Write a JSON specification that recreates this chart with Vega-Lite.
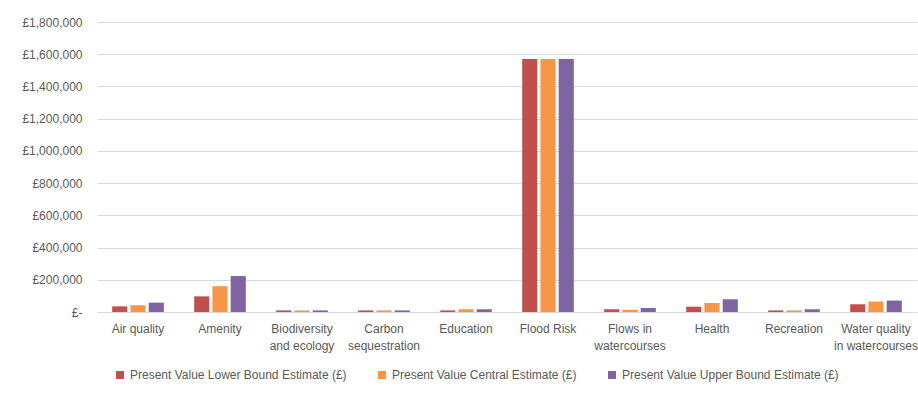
{
  "$schema": "https://vega.github.io/schema/vega-lite/v6.json",
  "autosize": "none",
  "width": 820,
  "height": 290,
  "padding": {"left": 97, "top": 22, "right": 1, "bottom": 83},
  "background": "white",
  "config": {
    "view": {"stroke": null},
    "font": "Liberation Sans",
    "axis": {"labelColor": "#595959", "labelFontSize": 12, "titleColor": "#595959"},
    "legend": {"labelColor": "#595959", "labelFontSize": 12}
  },
  "data": {
    "values": [
      {"category": "Air quality", "series": "Present Value Lower Bound Estimate (£)", "value": 35000},
      {"category": "Air quality", "series": "Present Value Central Estimate (£)", "value": 42000},
      {"category": "Air quality", "series": "Present Value Upper Bound Estimate (£)", "value": 58000},
      {"category": "Amenity", "series": "Present Value Lower Bound Estimate (£)", "value": 97000},
      {"category": "Amenity", "series": "Present Value Central Estimate (£)", "value": 160000},
      {"category": "Amenity", "series": "Present Value Upper Bound Estimate (£)", "value": 223000},
      {"category": "Biodiversity and ecology", "series": "Present Value Lower Bound Estimate (£)", "value": 10000},
      {"category": "Biodiversity and ecology", "series": "Present Value Central Estimate (£)", "value": 10000},
      {"category": "Biodiversity and ecology", "series": "Present Value Upper Bound Estimate (£)", "value": 10000},
      {"category": "Carbon sequestration", "series": "Present Value Lower Bound Estimate (£)", "value": 10000},
      {"category": "Carbon sequestration", "series": "Present Value Central Estimate (£)", "value": 10000},
      {"category": "Carbon sequestration", "series": "Present Value Upper Bound Estimate (£)", "value": 10000},
      {"category": "Education", "series": "Present Value Lower Bound Estimate (£)", "value": 10000},
      {"category": "Education", "series": "Present Value Central Estimate (£)", "value": 17000},
      {"category": "Education", "series": "Present Value Upper Bound Estimate (£)", "value": 17000},
      {"category": "Flood Risk", "series": "Present Value Lower Bound Estimate (£)", "value": 1570000},
      {"category": "Flood Risk", "series": "Present Value Central Estimate (£)", "value": 1570000},
      {"category": "Flood Risk", "series": "Present Value Upper Bound Estimate (£)", "value": 1570000},
      {"category": "Flows in watercourses", "series": "Present Value Lower Bound Estimate (£)", "value": 17000},
      {"category": "Flows in watercourses", "series": "Present Value Central Estimate (£)", "value": 14000},
      {"category": "Flows in watercourses", "series": "Present Value Upper Bound Estimate (£)", "value": 25000},
      {"category": "Health", "series": "Present Value Lower Bound Estimate (£)", "value": 33000},
      {"category": "Health", "series": "Present Value Central Estimate (£)", "value": 56000},
      {"category": "Health", "series": "Present Value Upper Bound Estimate (£)", "value": 79000},
      {"category": "Recreation", "series": "Present Value Lower Bound Estimate (£)", "value": 10000},
      {"category": "Recreation", "series": "Present Value Central Estimate (£)", "value": 10000},
      {"category": "Recreation", "series": "Present Value Upper Bound Estimate (£)", "value": 17000},
      {"category": "Water quality in watercourses", "series": "Present Value Lower Bound Estimate (£)", "value": 48000},
      {"category": "Water quality in watercourses", "series": "Present Value Central Estimate (£)", "value": 65000},
      {"category": "Water quality in watercourses", "series": "Present Value Upper Bound Estimate (£)", "value": 71000}
    ]
  },
  "mark": {"type": "bar"},
  "encoding": {
    "x": {
      "field": "category",
      "type": "nominal",
      "sort": null,
      "scale": {"paddingInner": 0.37, "paddingOuter": 0.185},
      "axis": {
        "title": null,
        "labelAngle": 0,
        "ticks": false,
        "domainColor": "#d9d9d9",
        "labelPadding": 16,
        "labelLineHeight": 17,
        "labelBaseline": "middle",
        "labelOverlap": false,
        "labelLimit": 0,
        "labelExpr": "datum.value == 'Biodiversity and ecology' ? ['Biodiversity','and ecology'] : datum.value == 'Carbon sequestration' ? ['Carbon','sequestration'] : datum.value == 'Flows in watercourses' ? ['Flows in','watercourses'] : datum.value == 'Water quality in watercourses' ? ['Water quality','in watercourses'] : datum.value"
      }
    },
    "xOffset": {
      "field": "series",
      "type": "nominal",
      "sort": ["Present Value Lower Bound Estimate (£)", "Present Value Central Estimate (£)", "Present Value Upper Bound Estimate (£)"],
      "scale": {"paddingInner": 0.17, "paddingOuter": 0}
    },
    "y": {
      "field": "value",
      "type": "quantitative",
      "scale": {"domain": [0, 1800000], "nice": false},
      "axis": {
        "title": null,
        "values": [0, 200000, 400000, 600000, 800000, 1000000, 1200000, 1400000, 1600000, 1800000],
        "domain": false,
        "ticks": false,
        "gridColor": "#d9d9d9",
        "labelPadding": 15,
        "labelOverlap": false,
        "labelLimit": 0,
        "labelExpr": "datum.value == 0 ? '£-' : '£' + format(datum.value, ',')"
      }
    },
    "color": {
      "field": "series",
      "type": "nominal",
      "sort": ["Present Value Lower Bound Estimate (£)", "Present Value Central Estimate (£)", "Present Value Upper Bound Estimate (£)"],
      "scale": {
        "domain": ["Present Value Lower Bound Estimate (£)", "Present Value Central Estimate (£)", "Present Value Upper Bound Estimate (£)"],
        "range": ["#C0504D", "#F79646", "#8064A2"]
      },
      "legend": {
        "title": null,
        "orient": "none",
        "direction": "horizontal",
        "legendX": 17,
        "legendY": 347,
        "symbolType": "square",
        "symbolSize": 64,
        "symbolStrokeWidth": 0,
        "columnPadding": 29,
        "labelOffset": 4,
        "labelLimit": 0
      }
    }
  }
}
